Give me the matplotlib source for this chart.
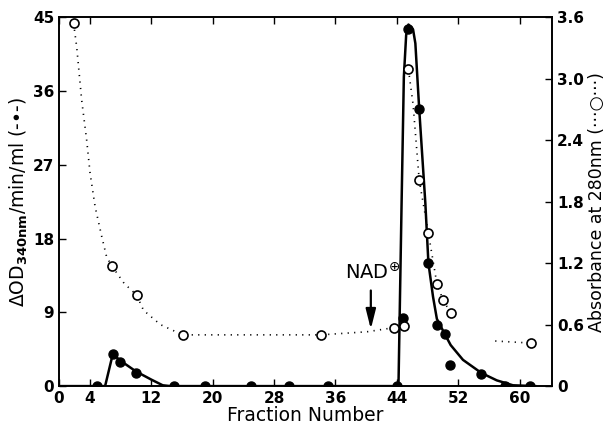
import matplotlib
matplotlib.use("Agg")
import matplotlib.pyplot as plt
import numpy as np

# enzyme activity (left axis), filled circles
act_x = [5.0, 7.0, 8.0, 10.0, 15.0, 19.0, 25.0, 30.0, 35.0, 44.0,
         44.8, 45.5, 46.9, 48.1, 49.2, 50.2, 50.9, 55.0, 58.1, 61.3]
act_y = [0.0, 3.9, 2.9, 1.6, 0.0, 0.0, 0.0, 0.0, 0.0, 0.0,
         8.3, 43.6, 33.8, 15.0, 7.4, 6.4, 2.6, 1.5, 0.0, 0.0]

# hand drawn solid curve through the activity points
act_curve_x = [0.0, 6.0, 7.0, 8.0, 10.0, 12.0, 13.5, 14.5, 44.2, 44.6,
               44.9, 45.2, 45.5, 46.1, 46.4, 46.9, 47.7, 48.1, 48.7, 49.2,
               50.2, 51.0, 52.6, 55.0, 57.0, 59.1, 62.0]
act_curve_y = [0.0, 0.0, 3.9, 3.1, 1.8, 0.8, 0.1, 0.0, 0.0, 22.0,
               37.7, 42.8, 44.1, 43.5, 41.8, 33.8, 22.3, 15.0, 10.9, 8.2,
               6.4, 5.0, 3.2, 1.6, 0.7, 0.1, 0.0]

# absorbance at 280 nm (right axis), open circles
abs_x = [1.9, 6.9, 10.1, 16.1, 34.1, 43.6, 44.9, 45.5, 46.9, 48.1,
         49.2, 50.0, 51.0, 61.4]
abs_y = [3.54, 1.17, 0.89, 0.50, 0.50, 0.57, 0.585, 3.09, 2.01, 1.49,
         1.00, 0.84, 0.715, 0.42]

# dotted trace (nan = gap in the trace)
abs_curve_x = [1.9, 2.3, 2.95, 3.6, 4.04, 4.7, 5.56, 6.2, 6.9, 8.5,
               10.1, 11.0, 13.2, 16.1, 34.1, 40.1, 43.6, np.nan, 45.5, 46.1,
               46.9, 48.1, 49.2, 50.0, 51.0, np.nan, 56.8, 61.4]
abs_curve_y = [3.54, 3.31, 2.79, 2.40, 2.08, 1.75, 1.46, 1.26, 1.17, 1.0,
               0.89, 0.74, 0.60, 0.50, 0.50, 0.53, 0.57, np.nan, 3.09, 2.75,
               2.01, 1.49, 1.00, 0.84, 0.715, np.nan, 0.44, 0.42]

x_ticks = [0, 4, 12, 20, 28, 36, 44, 52, 60]
left_ticks = [0, 9, 18, 27, 36, 45]
right_ticks = [0, 0.6, 1.2, 1.8, 2.4, 3.0, 3.6]
right_labels = ["0", "0.6", "1.2", "1.8", "2.4", "3.0", "3.6"]

plt.rcParams["font.family"] = ["DejaVu Sans"]

fig = plt.figure(figsize=(6.06, 4.29), dpi=100)
ax = fig.add_axes([0.0974, 0.10, 0.8136, 0.86])
ax2 = ax.twinx()

ax.plot(act_curve_x, act_curve_y, color="black", lw=1.8, zorder=3)
ax.plot(act_x, act_y, "o", color="black", ms=6.5, zorder=4)

ax2.plot(abs_curve_x, abs_curve_y, color="black", lw=1.2,
         linestyle=(0, (0.7, 3.2)), zorder=2)
ax2.plot(abs_x, abs_y, "o", mfc="white", mec="black", mew=1.2, ms=6.5,
         zorder=5)

ax.set_xlim(0, 64.2)
ax.set_ylim(0, 45)
ax2.set_ylim(0, 3.6)

ax.set_xticks(x_ticks)
ax.set_yticks(left_ticks)
ax2.set_yticks(right_ticks)
ax2.set_yticklabels(right_labels)

for a in (ax, ax2):
    a.tick_params(direction="in", length=5, width=1, labelsize=11,
                  top=True)
    for lab in a.get_xticklabels() + a.get_yticklabels():
        lab.set_fontweight("bold")
    for s in a.spines.values():
        s.set_linewidth(1.2)

ax.set_xlabel("Fraction Number", fontsize=13.5, labelpad=0)
ax.set_ylabel(r"$\Delta$OD$_{\mathbf{340nm}}$/min/ml (-•-)", fontsize=13.5,
              labelpad=2)
ax2.set_ylabel("Absorbance at 280nm (···○···)", fontsize=12.5,
               labelpad=3)

ax.annotate("", xy=(40.6, 6.6), xytext=(40.6, 12.0),
            arrowprops=dict(arrowstyle="-|>,head_width=0.3,head_length=1.2",
                            color="black", lw=1.6))
ax.text(40.8, 13.9, r"NAD$^{\oplus}$", fontsize=14, ha="center",
        va="center")

fig.savefig("out.png", dpi=100)
